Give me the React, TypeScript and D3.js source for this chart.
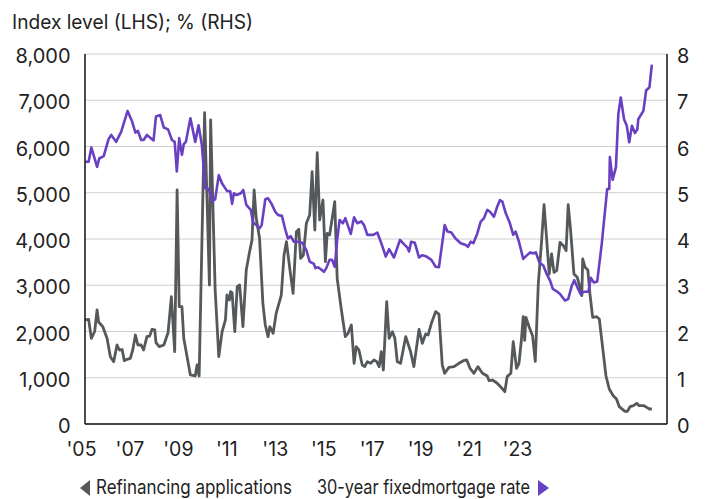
import React from "react";
import * as d3 from "d3";

// Refinancing applications index (LHS) — [decimal year, index level]
const refiSeries: [number, number][] = [
  [2005.01, 2249], [2005.12, 2262], [2005.21, 1852], [2005.32, 2000], [2005.40, 2465], [2005.45, 2205],
  [2005.59, 2104], [2005.73, 1852], [2005.84, 1456], [2005.95, 1347], [2006.06, 1708], [2006.14, 1600],
  [2006.23, 1610], [2006.30, 1369], [2006.39, 1398], [2006.50, 1420], [2006.58, 1600], [2006.67, 1924],
  [2006.75, 1708], [2006.86, 1708], [2006.94, 1600], [2007.05, 1888], [2007.14, 1900], [2007.22, 2047],
  [2007.31, 2033], [2007.35, 1762], [2007.46, 1672], [2007.61, 1708], [2007.75, 1974], [2007.86, 2753],
  [2007.97, 1564], [2008.05, 5060], [2008.12, 2537], [2008.21, 2537], [2008.27, 1852], [2008.38, 1456],
  [2008.49, 1060], [2008.65, 1038], [2008.71, 1276], [2008.78, 1038], [2008.96, 6731], [2009.12, 3005],
  [2009.16, 6573], [2009.31, 2897], [2009.43, 1456], [2009.54, 1996], [2009.65, 2249], [2009.70, 2789],
  [2009.78, 2681], [2009.82, 2861], [2009.87, 2840], [2009.96, 1996], [2010.04, 2969], [2010.12, 3005],
  [2010.23, 2104], [2010.34, 3330], [2010.45, 3726], [2010.53, 3978], [2010.60, 5060], [2010.67, 4448],
  [2010.78, 4015], [2010.89, 2609], [2010.97, 2141], [2011.06, 1888], [2011.12, 2104], [2011.23, 1960],
  [2011.33, 2393], [2011.50, 2789], [2011.59, 3654], [2011.67, 3942], [2011.78, 3366], [2011.89, 2825],
  [2012.00, 4158], [2012.08, 4210], [2012.14, 3582], [2012.23, 3654], [2012.33, 4340], [2012.44, 4519],
  [2012.52, 5455], [2012.61, 4195], [2012.69, 5866], [2012.77, 4411], [2012.88, 4843], [2012.96, 3509],
  [2013.02, 4123], [2013.10, 4087], [2013.27, 4807], [2013.35, 3150], [2013.49, 2465], [2013.62, 1888],
  [2013.71, 1960], [2013.82, 2141], [2013.91, 1312], [2013.98, 1672], [2014.07, 1600], [2014.18, 1276],
  [2014.26, 1240], [2014.35, 1348], [2014.46, 1312], [2014.57, 1384], [2014.66, 1348], [2014.74, 1240],
  [2014.81, 1564], [2014.88, 1168], [2014.99, 2645], [2015.07, 1852], [2015.18, 1996], [2015.26, 1852],
  [2015.34, 1348], [2015.45, 1312], [2015.62, 1888], [2015.78, 1564], [2015.89, 1240], [2016.06, 2047],
  [2016.17, 1744], [2016.28, 1946], [2016.36, 1924], [2016.47, 2177], [2016.61, 2429], [2016.72, 2378],
  [2016.83, 1276], [2016.91, 1096], [2017.05, 1224], [2017.22, 1240], [2017.38, 1312], [2017.53, 1369],
  [2017.64, 1384], [2017.75, 1204], [2017.88, 1096], [2018.01, 1240], [2018.16, 1096], [2018.32, 1036],
  [2018.38, 937], [2018.49, 951], [2018.63, 893], [2018.76, 807], [2018.90, 699], [2018.98, 1024],
  [2019.10, 1096], [2019.18, 1780], [2019.29, 1204], [2019.37, 1312], [2019.45, 1816], [2019.51, 2320],
  [2019.56, 1810], [2019.60, 2307], [2019.71, 2091], [2019.82, 1910], [2019.91, 1355], [2020.01, 3027],
  [2020.12, 3964], [2020.20, 4742], [2020.29, 3964], [2020.37, 3243], [2020.45, 3676], [2020.53, 3279],
  [2020.62, 3315], [2020.73, 3929], [2020.84, 3856], [2020.93, 3748], [2021.00, 4742], [2021.08, 4180],
  [2021.19, 3243], [2021.30, 3171], [2021.39, 2955], [2021.45, 2774], [2021.48, 3568], [2021.56, 3387],
  [2021.65, 3330], [2021.72, 2811], [2021.81, 2307], [2021.94, 2320], [2022.03, 2270], [2022.14, 1658],
  [2022.25, 1044], [2022.36, 757], [2022.49, 612], [2022.60, 540], [2022.69, 374], [2022.88, 274],
  [2022.96, 274], [2023.05, 374], [2023.16, 396], [2023.27, 447], [2023.35, 396], [2023.51, 396],
  [2023.60, 360], [2023.69, 324], [2023.77, 324],
];

// 30-year fixed mortgage rate (RHS, %) — [decimal year, rate]
const rateSeries: [number, number][] = [
  [2005.01, 5.67], [2005.12, 5.67], [2005.21, 5.98], [2005.40, 5.56], [2005.47, 5.74], [2005.62, 5.79],
  [2005.78, 6.16], [2005.87, 6.25], [2006.03, 6.10], [2006.20, 6.32], [2006.41, 6.77], [2006.56, 6.54],
  [2006.67, 6.30], [2006.75, 6.34], [2006.86, 6.14], [2006.94, 6.14], [2007.05, 6.25], [2007.27, 6.13],
  [2007.35, 6.65], [2007.49, 6.68], [2007.61, 6.41], [2007.75, 6.37], [2007.88, 6.14], [2007.97, 6.10],
  [2008.04, 5.46], [2008.12, 6.18], [2008.21, 5.82], [2008.27, 6.05], [2008.34, 6.10], [2008.49, 6.61],
  [2008.65, 6.10], [2008.76, 6.46], [2008.87, 6.03], [2008.98, 5.10], [2009.10, 5.08], [2009.21, 4.81],
  [2009.31, 4.86], [2009.43, 5.38], [2009.54, 5.20], [2009.70, 5.04], [2009.81, 5.03], [2009.87, 4.76],
  [2009.93, 4.99], [2010.02, 4.95], [2010.16, 4.99], [2010.24, 5.06], [2010.34, 4.74], [2010.49, 4.63],
  [2010.56, 4.37], [2010.67, 4.30], [2010.78, 4.23], [2010.85, 4.30], [2010.97, 4.86], [2011.06, 4.88],
  [2011.17, 4.77], [2011.30, 4.59], [2011.39, 4.52], [2011.52, 4.50], [2011.63, 4.21], [2011.72, 4.01],
  [2011.81, 4.06], [2011.92, 3.94], [2012.08, 3.94], [2012.19, 3.92], [2012.33, 3.76], [2012.44, 3.51],
  [2012.58, 3.46], [2012.63, 3.37], [2012.72, 3.39], [2012.82, 3.34], [2012.91, 3.29], [2012.99, 3.37],
  [2013.10, 3.55], [2013.18, 3.55], [2013.27, 3.40], [2013.35, 3.98], [2013.43, 4.41], [2013.54, 4.34],
  [2013.62, 4.45], [2013.80, 4.11], [2013.91, 4.47], [2014.02, 4.34], [2014.15, 4.38], [2014.24, 4.30],
  [2014.35, 4.09], [2014.54, 4.09], [2014.68, 4.14], [2014.81, 3.91], [2014.96, 3.62], [2015.07, 3.78],
  [2015.23, 3.60], [2015.43, 3.98], [2015.56, 3.89], [2015.67, 3.82], [2015.73, 3.73], [2015.80, 3.94],
  [2015.92, 3.92], [2016.06, 3.60], [2016.17, 3.65], [2016.31, 3.62], [2016.47, 3.55], [2016.61, 3.40],
  [2016.72, 3.39], [2016.91, 4.30], [2017.00, 4.16], [2017.13, 4.14], [2017.27, 4.01], [2017.44, 3.91],
  [2017.61, 3.87], [2017.68, 3.83], [2017.77, 3.94], [2017.86, 3.91], [2017.99, 4.12], [2018.10, 4.37],
  [2018.21, 4.45], [2018.32, 4.63], [2018.41, 4.59], [2018.54, 4.48], [2018.65, 4.70], [2018.74, 4.84],
  [2018.82, 4.81], [2018.93, 4.56], [2019.07, 4.34], [2019.18, 4.09], [2019.26, 4.16], [2019.37, 3.94],
  [2019.45, 3.73], [2019.51, 3.57], [2019.62, 3.64], [2019.74, 3.71], [2019.82, 3.69], [2019.93, 3.71],
  [2020.04, 3.50], [2020.18, 3.42], [2020.29, 3.24], [2020.40, 3.10], [2020.49, 2.92], [2020.62, 2.87],
  [2020.73, 2.81], [2020.89, 2.67], [2021.00, 2.70], [2021.12, 2.99], [2021.20, 3.11], [2021.30, 2.96],
  [2021.41, 2.81], [2021.52, 2.86], [2021.67, 2.86], [2021.75, 3.16], [2021.85, 3.06], [2021.96, 3.08],
  [2022.11, 3.89], [2022.29, 5.08], [2022.36, 5.08], [2022.38, 5.77], [2022.47, 5.28], [2022.58, 5.55],
  [2022.66, 6.70], [2022.74, 7.06], [2022.85, 6.59], [2022.94, 6.45], [2023.02, 6.09], [2023.11, 6.45],
  [2023.21, 6.29], [2023.29, 6.37], [2023.32, 6.59], [2023.49, 6.77], [2023.58, 7.21], [2023.69, 7.28],
  [2023.77, 7.77],
];

const leftTicks = [0, 1000, 2000, 3000, 4000, 5000, 6000, 7000, 8000];
const rightTicks = [0, 1, 2, 3, 4, 5, 6, 7, 8];
const xTickLabels = ["'05", "'07", "'09", "'11", "'13", "'15", "'17", "'19", "'21", "'23"];
const subtitle = "Index level (LHS); % (RHS)";
const legendLeft = "Refinancing applications";
const legendRight = "30-year fixedmortgage rate";

const GRAY = "#55595b";
const PURPLE = "#6a40c2";
const TEXT = "#222222";
const FONT = "Inter, 'Noto Sans', sans-serif";

export default function App() {
  const W = 708, H = 499;
  const left = 85, right = 667, top = 54, bottom = 424;

  const x = d3.scaleLinear().domain([2005, 2005 + (right - left) / 30.2]).range([left, right]);
  const yL = d3.scaleLinear().domain([0, 8000]).range([bottom, top]);
  const yR = d3.scaleLinear().domain([0, 8]).range([bottom, top]);
  const xLab = d3.scalePoint<string>().domain(xTickLabels).range([81.5, 517.5]);

  const refiLine = d3.line<[number, number]>().x((d) => x(d[0])).y((d) => yL(d[1]));
  const rateLine = d3.line<[number, number]>().x((d) => x(d[0])).y((d) => yR(d[1]));
  const fmt = d3.format(",");

  return (
    <svg width={W} height={H} style={{ position: "absolute", left: 0, top: 0, background: "#fff" }} fontFamily={FONT}>
      <text x={12} y={29} fontSize={19.5} fill={TEXT} textLength={241} lengthAdjust="spacingAndGlyphs">{subtitle}</text>
      {leftTicks.map((t) => (
        <line key={"g" + t} x1={left} x2={right} y1={yL(t)} y2={yL(t)} stroke="#cfcfcf" strokeWidth={1.2} />
      ))}
      {leftTicks.map((t) => (
        <text key={"l" + t} x={70.5} y={yL(t) + 9} textAnchor="end" fontSize={20} fill={TEXT}>{fmt(t)}</text>
      ))}
      {rightTicks.map((t) => (
        <text key={"r" + t} x={677} y={yR(t) + 9} textAnchor="start" fontSize={20} fill={TEXT}>{t}</text>
      ))}
      {xTickLabels.map((l) => (
        <text key={l} x={xLab(l)} y={456} textAnchor="middle" fontSize={19.5} fill={TEXT}>{l}</text>
      ))}
      <path d={refiLine(refiSeries) || ""} fill="none" stroke={GRAY} strokeWidth={2.8} strokeLinejoin="round" />
      <path d={rateLine(rateSeries) || ""} fill="none" stroke={PURPLE} strokeWidth={2.6} strokeLinejoin="round" />
      <line x1={left} x2={left} y1={top} y2={bottom} stroke="#111" strokeWidth={1.5} />
      <line x1={right} x2={right} y1={top} y2={bottom} stroke="#111" strokeWidth={1.5} />
      <line x1={left} x2={right} y1={bottom} y2={bottom} stroke="#111" strokeWidth={1.5} />
      <path d="M80,488 L90,480 L90,496 Z" fill={GRAY} />
      <text x={96} y={494} fontSize={19.5} fill={TEXT} textLength={196} lengthAdjust="spacingAndGlyphs">{legendLeft}</text>
      <text x={317} y={494} fontSize={19.5} fill={TEXT} textLength={213} lengthAdjust="spacingAndGlyphs">{legendRight}</text>
      <path d="M549,488 L538,480 L538,496 Z" fill={PURPLE} />
    </svg>
  );
}
